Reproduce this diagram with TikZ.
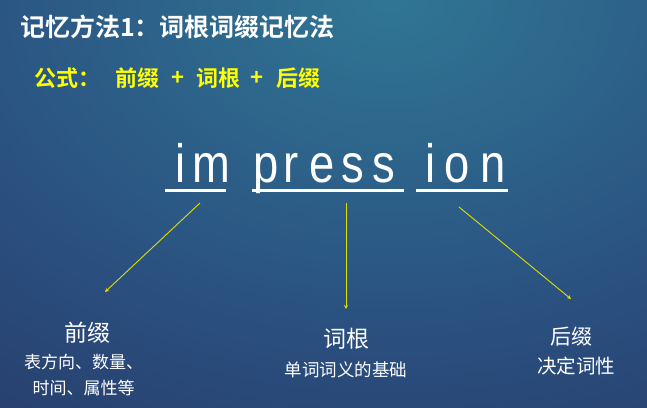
\documentclass[tikz,border=0pt]{standalone}
\usepackage{fontspec}
\setmainfont{Liberation Sans}
\newfontfamily\cjk{Noto Sans CJK SC}[BoldFont={Noto Sans CJK SC Bold}]
\newfontfamily\latw{Liberation Sans}[FakeStretch=0.84]
\usetikzlibrary{arrows.meta}
\definecolor{bgA}{HTML}{307694}
\definecolor{bgB}{HTML}{2A5080}
\definecolor{bgC}{HTML}{273A68}
\definecolor{bgD}{HTML}{262552}
\definecolor{bgE}{HTML}{25224E}
\definecolor{arrowyel}{RGB}{222,222,0}
\definecolor{formyel}{HTML}{FFFF00}
\pgfdeclareradialshading{bgshade}{\pgfpoint{0bp}{0bp}}{color(0bp)=(bgA); color(16.5bp)=(bgB); color(28bp)=(bgC); color(41bp)=(bgD); color(50bp)=(bgE)}
\tikzset{
  title/.style={text=white,inner sep=0pt,font=\cjk\bfseries\fontsize{25}{28}\selectfont},
  formula/.style={text=formyel,inner sep=0pt,font=\cjk\bfseries\fontsize{22}{26}\selectfont},
  letter/.style={text=white,inner sep=0pt,anchor=base,font=\latw\fontsize{54}{60}\selectfont},
  uline/.style={white,line width=2.5pt},
  conn/.style={arrowyel,line width=0.9pt,-{Stealth[length=4pt,width=4pt]}},
  head/.style={text=white,inner sep=0pt,font=\cjk\fontsize{#1}{#1}\selectfont},
  desc/.style={text=white,inner sep=0pt,align=center,font=\cjk\fontsize{#1}{25.5}\selectfont},
}
\begin{document}
\begin{tikzpicture}[x=1pt,y=-1pt]
\useasboundingbox (0,0) rectangle (647,407);
\fill[bgE] (0,0) rectangle (647,407);
\begin{scope}
\clip (0,0) rectangle (647,407);
\path[shading=bgshade] (390,0) ellipse [x radius=700, y radius=500];
\end{scope}
% title
\node[title,anchor=west] (ttl) at (20,27) {记忆方法1：词根词缀记忆法};
% formula
\node[formula,anchor=west] (fa) at (34,78) {公式：};
\node[formula] (fb) at (137.5,78) {前缀};
\node[formula] (fc) at (178,78) {+};
\node[formula] (fd) at (218.5,78) {词根};
\node[formula] (fe) at (257,78) {+};
\node[formula] (ff) at (298,78) {后缀};
% word letters
\node[letter] (l1) at (180.5,182) {i};
\node[letter] (l2) at (211,182) {m};
\node[letter] (l3) at (266,182) {p};
\node[letter] (l4) at (291,182) {r};
\node[letter] (l5) at (322.5,182) {e};
\node[letter] (l6) at (352.5,182) {s};
\node[letter] (l7) at (384,182) {s};
\node[letter] (l8) at (430.5,182) {i};
\node[letter] (l9) at (457.5,182) {o};
\node[letter] (l10) at (493,182) {n};
% underlines
\draw[uline] (165,190.5) -- (226,190.5);
\draw[uline] (252,190.5) -- (404,190.5);
\draw[uline] (416,190.5) -- (508,190.5);
% bottom labels
\node[head=23] (pre) at (87,333) {前缀};
\node[desc=17] (prea) at (83.5,375) {表方向、数量、\\时间、属性等};
\node[head=23] (root) at (346,339) {词根};
\node[desc=17.5] (roota) at (346,369.5) {单词词义的基础};
\node[head=21] (suf) at (571,336.5) {后缀};
\node[desc=19.5] (sufa) at (576,366.5) {决定词性};
% connectors
\coordinate (s1) at (200,203);
\coordinate (e1) at (105,292);
\coordinate (s2) at (346,203);
\coordinate (e2) at (346,309);
\coordinate (s3) at (459,207);
\coordinate (e3) at (571,299);
\draw[conn] (s1) -- (e1);
\draw[conn] (s2) -- (e2);
\draw[conn] (s3) -- (e3);
\end{tikzpicture}
\end{document}
